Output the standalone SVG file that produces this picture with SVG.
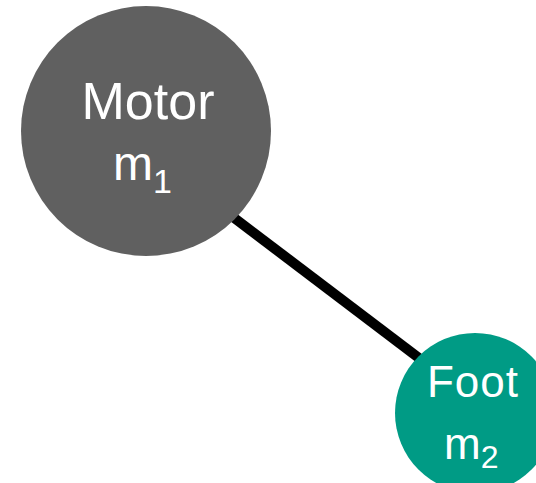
<svg xmlns="http://www.w3.org/2000/svg" width="536" height="483" viewBox="0 0 536 483">
<style>
.lbl{font-family:"Liberation Sans",Arial,sans-serif;fill:#ffffff}
</style>
<rect width="536" height="483" fill="#ffffff"/>
<g id="connectors">
<line x1="200" y1="192" x2="440" y2="374" stroke="#000000" stroke-width="10"/>
</g>
<g id="motor">
<circle cx="146" cy="131" r="125" fill="#606060"/>
<text class="lbl" x="148" y="119" font-size="52" text-anchor="middle">Motor</text>
<text class="lbl" x="113" y="180" font-size="48">m<tspan font-size="34" dy="13">1</tspan></text>
</g>
<g id="foot">
<circle cx="475" cy="413" r="80" fill="#009B85"/>
<text class="lbl" x="473" y="397" font-size="44" text-anchor="middle" letter-spacing="1">Foot</text>
<text class="lbl" x="444" y="459" font-size="44">m<tspan font-size="32" dy="9">2</tspan></text>
</g>
</svg>
